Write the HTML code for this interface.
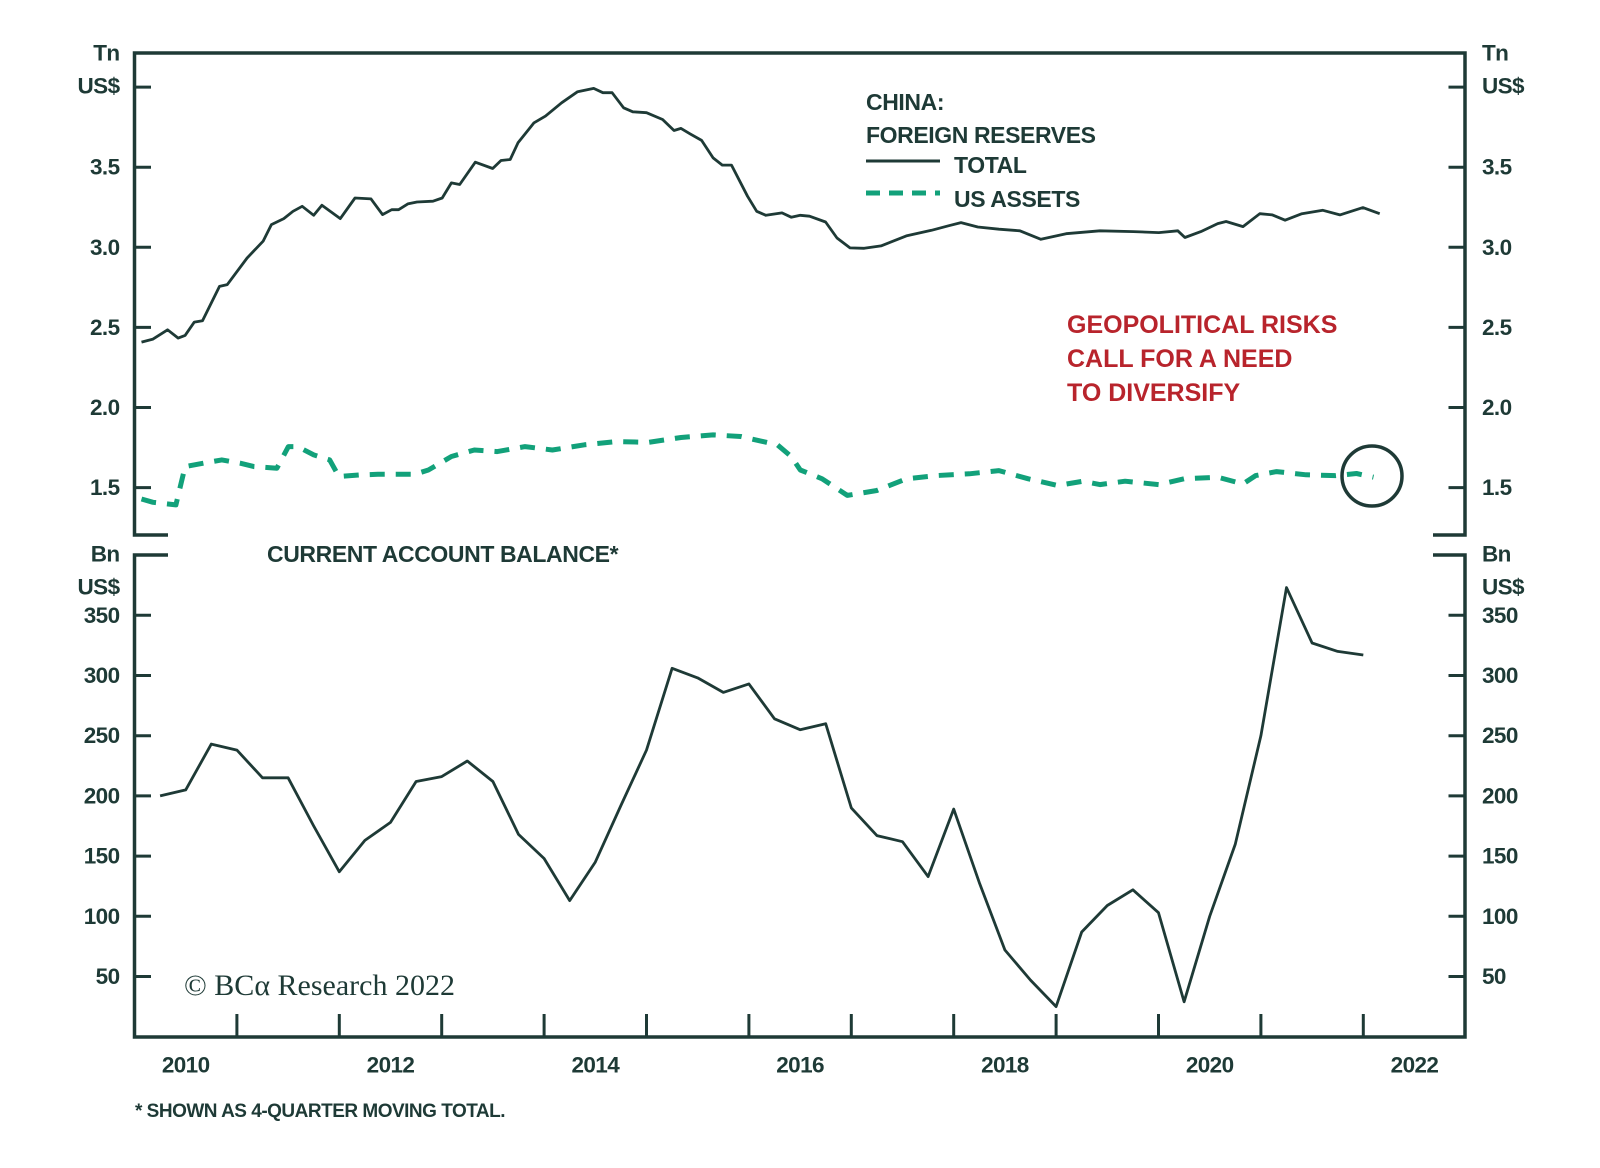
<!DOCTYPE html>
<html><head><meta charset="utf-8">
<style>
html,body{margin:0;padding:0;background:#fff;}
svg{display:block;}
text{font-family:"Liberation Sans",Arial,sans-serif;fill:#1e3a36;}
.tk{font-size:22.5px;font-weight:bold;letter-spacing:-0.6px;}
.lg{font-size:23px;font-weight:bold;letter-spacing:-0.4px;}
.red{font-size:25px;font-weight:bold;fill:#b8242c;letter-spacing:0px;}
</style></head>
<body>
<svg id="chart" width="1600" height="1168" viewBox="0 0 1600 1168" xmlns="http://www.w3.org/2000/svg">
<g id="frame" stroke="#1e3a36" stroke-width="3.5" fill="none">
  <path d="M168,535 L134.5,535 L134.5,53 L1465,53 L1465,535 L1433,535"/>
  <path d="M168,555 L134.5,555 L134.5,1037 L1465,1037 L1465,555 L1433,555"/>
</g>
<g id="axes"></g>
<g id="series"></g>

<g>
  <text class="lg" x="866" y="110">CHINA:</text>
  <text class="lg" x="866" y="143">FOREIGN RESERVES</text>
  <line x1="866" y1="161" x2="940" y2="161" stroke="#1e3a36" stroke-width="3"/>
  <text class="lg" x="954" y="173">TOTAL</text>
  <line x1="866" y1="193" x2="940" y2="193" stroke="#12a17a" stroke-width="5" stroke-dasharray="14,9"/>
  <text class="lg" x="954" y="207">US ASSETS</text>
</g>
<g>
  <text class="red" x="1067" y="333">GEOPOLITICAL RISKS</text>
  <text class="red" x="1067" y="367">CALL FOR A NEED</text>
  <text class="red" x="1067" y="401">TO DIVERSIFY</text>
  <circle cx="1372" cy="476" r="30" fill="none" stroke="#1e3a36" stroke-width="3.5"/>
</g>
<text class="lg" x="267" y="562">CURRENT ACCOUNT BALANCE*</text>
<text x="184" y="995" style="font-family:'Liberation Serif',serif;font-size:30px;">© BCα Research 2022</text>
<text x="135" y="1117" style="font-size:19px;font-weight:bold;letter-spacing:-0.5px;">* SHOWN AS 4-QUARTER MOVING TOTAL.</text>
</svg>
<script>
// ---- data ----
const totalT = [0.068,0.181,0.323,0.427,0.494,0.584,0.664,0.830,0.906,1.100,1.256,1.337,1.458,1.548,1.638,1.750,1.830,2.010,2.153,2.310,2.422,2.512,2.579,2.669,2.759,2.915,3.005,3.095,3.176,3.328,3.498,3.579,3.669,3.745,3.901,4.014,4.171,4.327,4.484,4.574,4.664,4.776,4.866,5.0,5.157,5.269,5.337,5.427,5.538,5.650,5.740,5.830,5.986,6.076,6.166,6.323,6.413,6.502,6.592,6.749,6.860,6.987,7.126,7.29,7.537,7.783,7.948,8.071,8.235,8.441,8.646,8.852,9.098,9.428,9.756,10.003,10.188,10.258,10.414,10.578,10.66,10.825,10.989,11.112,11.236,11.4,11.605,11.771,11.996,12.16];
const totalV = [2.408,2.427,2.485,2.433,2.45,2.533,2.542,2.756,2.767,2.933,3.038,3.142,3.179,3.225,3.256,3.2,3.263,3.179,3.308,3.302,3.204,3.235,3.235,3.271,3.283,3.288,3.308,3.402,3.392,3.531,3.492,3.542,3.548,3.652,3.777,3.819,3.902,3.971,3.992,3.965,3.965,3.871,3.846,3.84,3.798,3.729,3.742,3.708,3.667,3.558,3.513,3.513,3.319,3.225,3.2,3.215,3.188,3.2,3.194,3.158,3.058,2.996,2.994,3.009,3.071,3.106,3.134,3.154,3.127,3.113,3.103,3.05,3.085,3.103,3.098,3.092,3.103,3.061,3.098,3.148,3.161,3.129,3.21,3.202,3.169,3.21,3.231,3.202,3.248,3.21];
const usT = [0.068,0.181,0.404,0.494,0.674,0.853,1.032,1.167,1.391,1.503,1.593,1.75,1.906,1.996,2.198,2.377,2.736,2.870,3.095,3.318,3.543,3.813,4.081,4.395,4.709,5.022,5.337,5.650,5.920,6.278,6.413,6.502,6.715,6.961,7.249,7.537,7.824,8.153,8.441,8.729,9.017,9.263,9.428,9.674,10.003,10.249,10.578,10.825,10.948,11.153,11.441,11.729,11.934,12.1];
const usV = [1.429,1.408,1.392,1.631,1.652,1.673,1.652,1.631,1.621,1.756,1.756,1.704,1.673,1.569,1.579,1.583,1.583,1.61,1.694,1.735,1.725,1.756,1.735,1.767,1.787,1.783,1.813,1.829,1.819,1.767,1.694,1.61,1.555,1.451,1.482,1.555,1.575,1.586,1.606,1.555,1.513,1.54,1.519,1.54,1.519,1.555,1.565,1.523,1.575,1.6,1.58,1.575,1.588,1.565];
const caStart = 2010.25;
const caV = [200,205,243,238,215,215,175,137,163,178,212,216,229,212,168,148,113,145,192,238,306,298,286,293,264,255,260,190,167,162,133,189,128,72,47,25,87,109,122,103,29,100,160,250,373,327,320,317];
const topTicks = [1.5,2.0,2.5,3.0,3.5];
const topTickLabels = ["1.5","2.0","2.5","3.0","3.5"];
const botTicks = [50,100,150,200,250,300,350];
const botTickLabels = ["50","100","150","200","250","300","350"];
const yearLabels = ["2010","2012","2014","2016","2018","2020","2022"];
const yearLabelYears = [2010,2012,2014,2016,2018,2020,2022];

// ---- scales ----
const NS="http://www.w3.org/2000/svg";
const X = t => 134.5 + (t-2010)*102.4;
const YT = v => 87.1 + (4-v)*160.2;
const YB = v => 976.5 + (50-v)*1.204;
const axes=document.getElementById('axes');
const series=document.getElementById('series');
function mk(tag,attrs,parent){const e=document.createElementNS(NS,tag);for(const k in attrs)e.setAttribute(k,attrs[k]);parent.appendChild(e);return e;}
function tickLine(x1,y1,x2,y2){const l=mk('line',{x1:x1,y1:y1,x2:x2,y2:y2,stroke:'#1e3a36','stroke-width':3},axes);return l;}
function label(txt,x,y,anchor){const t=mk('text',{x:x,y:y,'text-anchor':anchor,'dominant-baseline':'central','class':'tk'},axes);t.textContent=txt;return t;}

[4.0].concat(topTicks).forEach(v=>{
  const a=tickLine(134.5,YT(v),151,YT(v));
  
  
  const b=tickLine(1448.5,YT(v),1465,YT(v));
  
  
});
topTicks.forEach((v,i)=>{
  const a=label(topTickLabels[i],119.5,YT(v),'end');
  
  
  const b=label(topTickLabels[i],1482,YT(v),'start');
  
  
});
botTicks.forEach((v,i)=>{
  const a=tickLine(134.5,YB(v),151,YB(v));
  
  
  const b=tickLine(1448.5,YB(v),1465,YB(v));
  
  
  const c=label(botTickLabels[i],119.5,YB(v),'end');
  
  
  const d=label(botTickLabels[i],1482,YB(v),'start');
  
  
});
[['Tn',119.5,53,'end'],['US$',119.5,86,'end'],['Tn',1482,53,'start'],['US$',1482,86,'start'],
 ['Bn',119.5,554,'end'],['US$',119.5,587,'end'],['Bn',1482,554,'start'],['US$',1482,587,'start']].forEach(u=>{
  const t=label(u[0],u[1],u[2],u[3]);
  
  
});
for(let y=2011;y<=2022;y++){
  const l=tickLine(X(y),1037,X(y),1014);
  
  
}
yearLabels.forEach((s,i)=>{
  const t=label(s,X(yearLabelYears[i]+0.5),1065,'middle');
  
  
});

function pathD(xs,ys){return xs.map((x,i)=>(i?'L':'M')+x.toFixed(1)+','+ys[i].toFixed(1)).join(' ');}
const pt=mk('path',{d:pathD(totalT.map(t=>X(2010+t)),totalV.map(YT)),fill:'none',stroke:'#1e3a36','stroke-width':2.8,'stroke-linejoin':'round'},series);


const pu=mk('path',{d:pathD(usT.map(t=>X(2010+t)),usV.map(YT)),fill:'none',stroke:'#12a17a','stroke-width':5,'stroke-dasharray':'15,11','stroke-linejoin':'round'},series);


const pc=mk('path',{d:pathD(caV.map((v,i)=>X(caStart+i*0.25)),caV.map(YB)),fill:'none',stroke:'#1e3a36','stroke-width':2.8,'stroke-linejoin':'round'},series);


</script>
</body></html>
